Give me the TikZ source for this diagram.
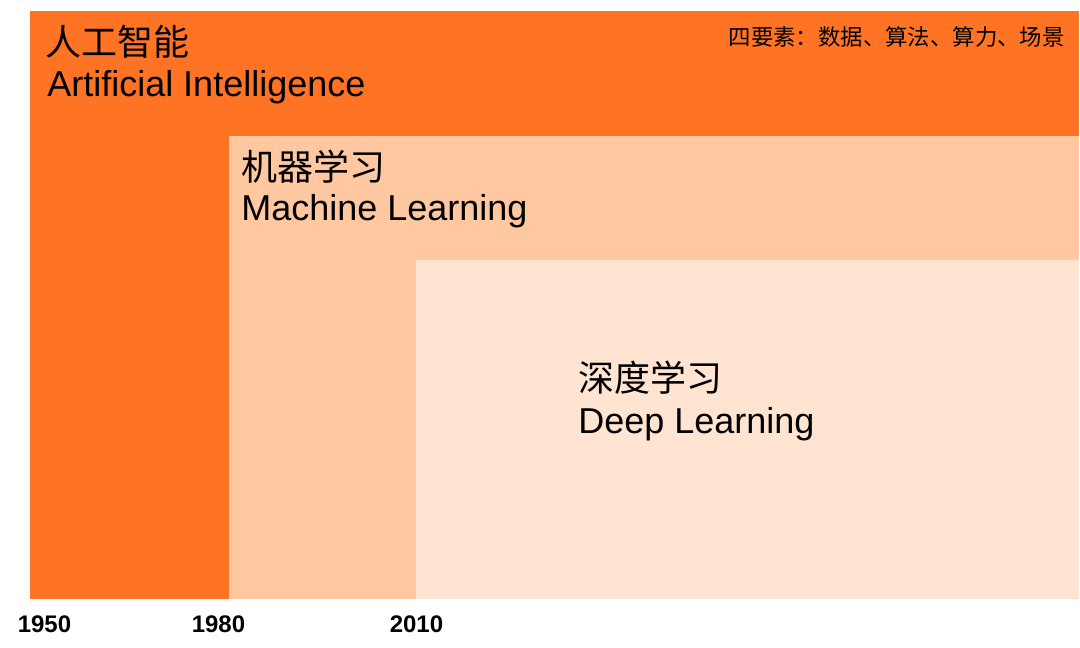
\documentclass[tikz,border=0pt]{standalone}
\usepackage{fontspec}
\setmainfont{Liberation Sans}
\newfontfamily\cjk{Noto Sans CJK SC}
\definecolor{aiorange}{RGB}{255,115,36}
\definecolor{mlpeach}{RGB}{255,200,160}
\definecolor{dllight}{RGB}{255,228,210}
\begin{document}
\begin{tikzpicture}[x=0.75pt,y=-0.75pt,
  big/.style={anchor=base west, inner sep=0pt, font=\fontsize{27}{32}\selectfont},
  bigcjk/.style={anchor=base west, inner sep=0pt, font=\cjk\fontsize{27}{32}\selectfont},
  note/.style={anchor=base east, inner sep=0pt, font=\cjk\fontsize{16.8}{20}\selectfont},
  year/.style={anchor=base, inner sep=0pt, font=\bfseries\fontsize{18}{22}\selectfont}]
\useasboundingbox (0,0) rectangle (1080,648);
% regions
\fill[aiorange] (30,11) rectangle (1079,599);
\fill[mlpeach] (229,136) rectangle (1079,599);
\fill[dllight] (416,260) rectangle (1079,599);
% AI
\node[bigcjk] (aizh) at (45,56) {人工智能};
\node[big] (aien) at (47,97) {Artificial Intelligence};
\node[note] (four) at (1065,46) {四要素：数据、算法、算力、场景};
% ML
\node[bigcjk] (mlzh) at (241,181) {机器学习};
\node[big] (mlen) at (241,221) {Machine Learning};
% DL
\node[bigcjk] (dlzh) at (578,391) {深度学习};
\node[big] (dlen) at (578,433) {Deep Learning};
% years
\node[year] (y1950) at (44.5,632) {1950};
\node[year] (y1980) at (218.5,632) {1980};
\node[year] (y2010) at (416.5,632) {2010};
\end{tikzpicture}
\end{document}
